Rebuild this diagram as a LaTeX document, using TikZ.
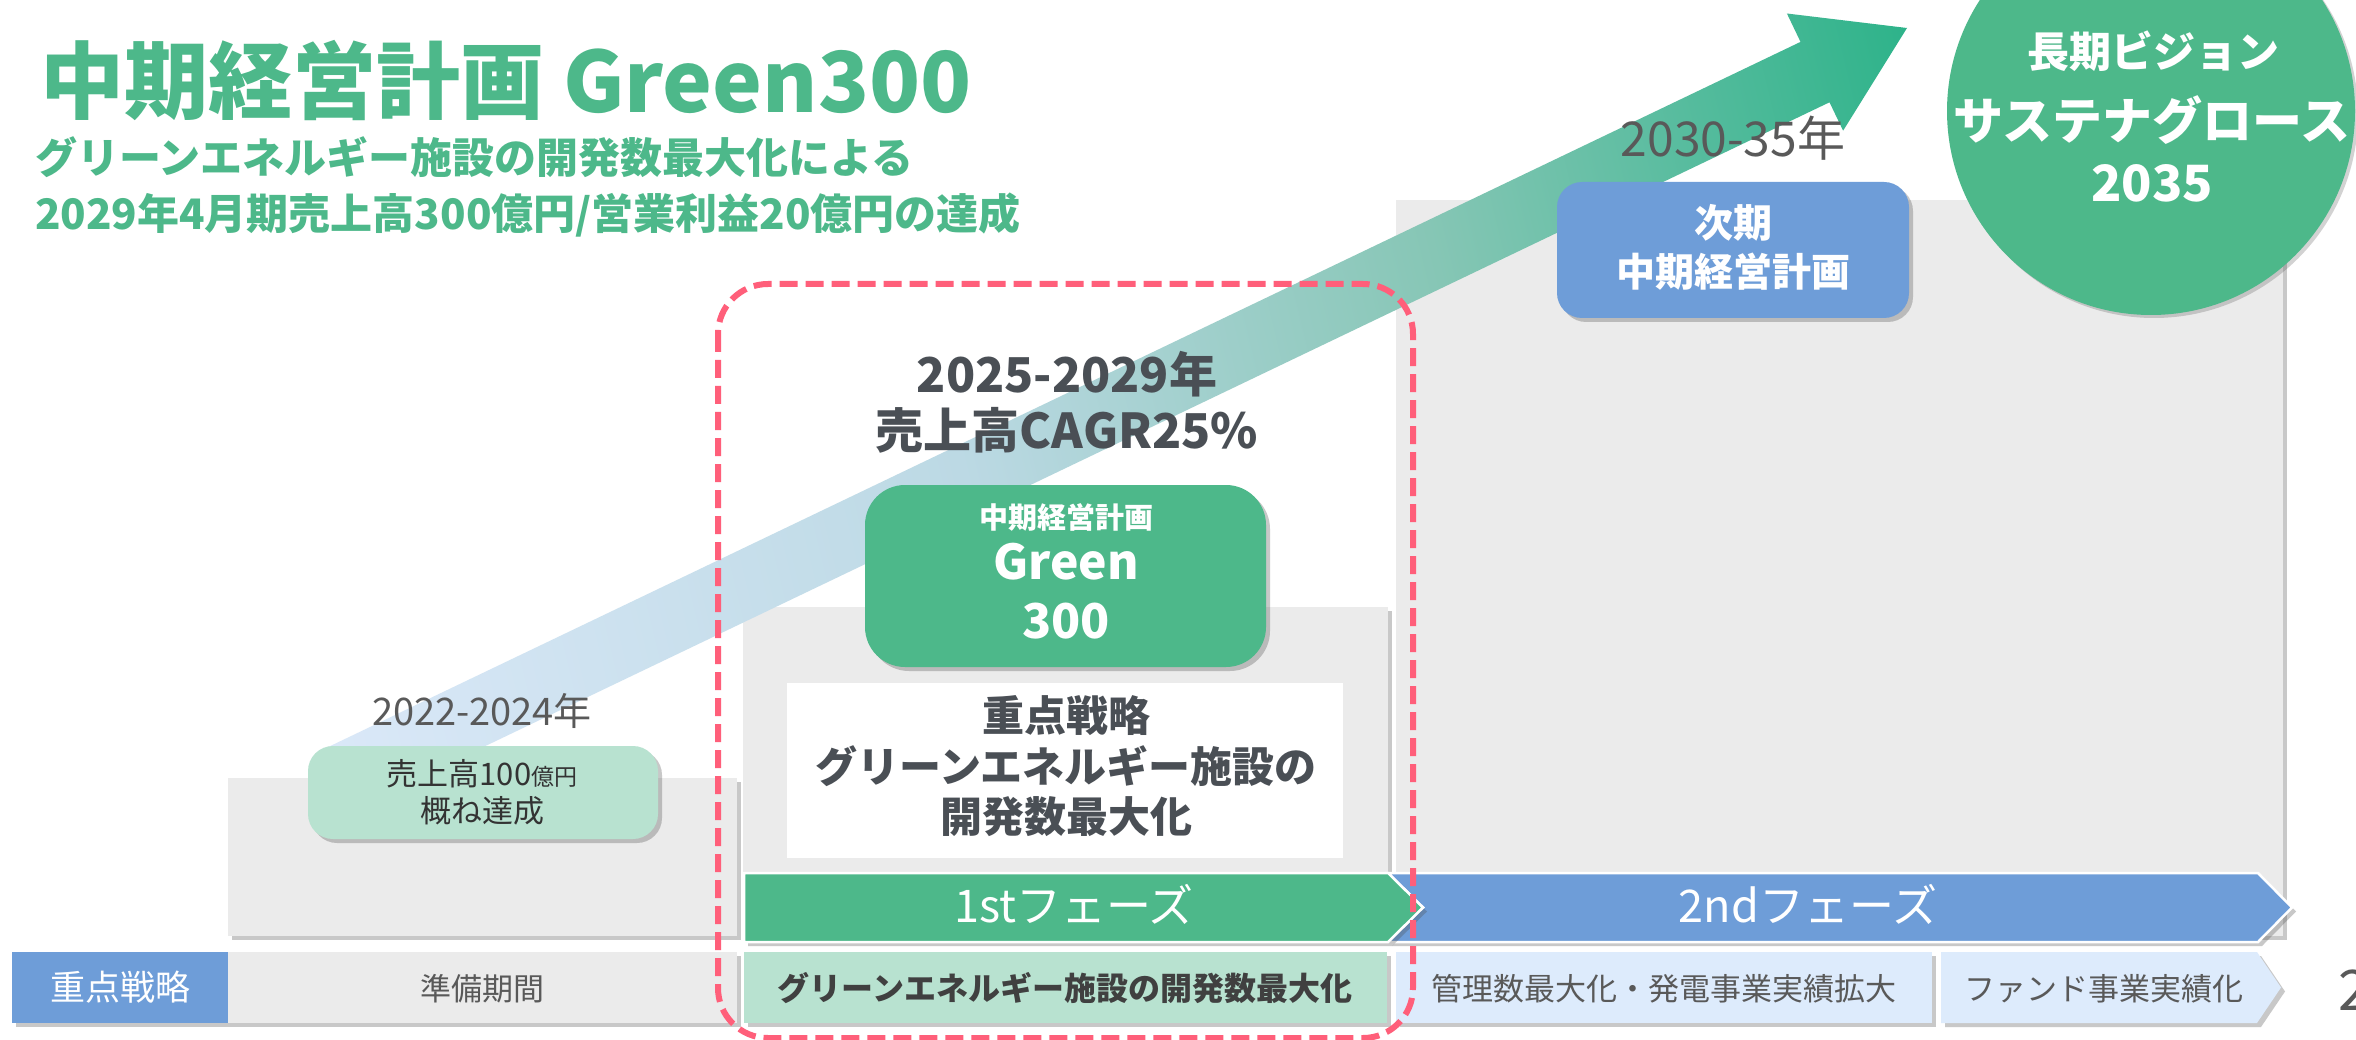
\documentclass[tikz,border=0pt]{standalone}
\usepackage{fontspec}
\setmainfont{Noto Sans CJK JP}
\usetikzlibrary{shadows}
\newcommand\myfs[1]{\fontsize{#1}{#1}\selectfont}
\definecolor{grn}{HTML}{4DB88A}
\definecolor{mint}{HTML}{B8E2D0}
\definecolor{blu}{HTML}{6E9DD8}
\definecolor{lblu}{HTML}{DDEBFC}
\definecolor{graybg}{HTML}{EBEBEB}
\definecolor{dtxt}{HTML}{4A4F55}
\definecolor{gtxt}{HTML}{595959}
\definecolor{dashred}{HTML}{FF5F7A}
\definecolor{arrA}{HTML}{DAE8F8}
\definecolor{arrB}{HTML}{BCD9E4}
\definecolor{arrC}{HTML}{86C6B5}
\definecolor{arrD}{HTML}{2EB38A}
\pgfdeclarehorizontalshading{arrowshade}{100bp}{color(0bp)=(arrA); color(20.7bp)=(arrA); color(44.4bp)=(arrB); color(62.2bp)=(arrC); color(80bp)=(arrD); color(100bp)=(arrD)}
\tikzset{
  txt/.style={inner sep=0pt, outer sep=0pt},
  shd/.style={drop shadow={shadow xshift=4pt, shadow yshift=-4pt, opacity=0.3, fill=black!70}},
  box/.style={rectangle, inner sep=0pt, outer sep=0pt},
}
\begin{document}
\begin{tikzpicture}[x=1pt,y=-1pt]
\useasboundingbox[fill=white] (0,0) rectangle (2356,1040);

% gray background panels
\node[box, fill=graybg, shd, minimum width=509, minimum height=158] (p1) at (482.5,857) {};
\node[box, fill=graybg, shd, minimum width=645, minimum height=329] (p2) at (1065.5,771.5) {};
\node[box, fill=graybg, shd, minimum width=887, minimum height=736] (p3) at (1839.5,568) {};

% big gradient arrow
\coordinate (A1) at (320.5,750.7);
\coordinate (S1) at (1800.5,41.9);
\coordinate (H1) at (1786.9,13.5);
\coordinate (T) at (1907,28);
\coordinate (H2) at (1843.1,130.7);
\coordinate (S2) at (1829.5,102.3);
\coordinate (A2) at (349.5,811.1);
\shade[shading=arrowshade, shading angle=13.54] (A1) -- (S1) -- (H1) -- (T) -- (H2) -- (S2) -- (A2) -- cycle;

% title
\node[txt, anchor=base west, text=grn, font=\myfs{84}\bfseries] (title) at (40,113) {中期経営計画 Green300};
\node[txt, anchor=base west, text=grn, font=\myfs{42}\bfseries] (sub1) at (35,174) {グリーンエネルギー施設の開発数最大化による};
\node[txt, anchor=base west, text=grn, font=\myfs{42}\bfseries] (sub2) at (35,230) {2029年4月期売上高300億円/営業利益20億円の達成};

% 2022-2024
\node[txt, anchor=base, text=gtxt, font=\myfs{38}] (y1) at (482,725) {2022-2024年};
\node[box, fill=mint, rounded corners=25, shd, minimum width=350, minimum height=93] (b100) at (483,792.5) {};
\node[txt, anchor=base, text=black!80, font=\myfs{31}] (b100a) at (482,785) {売上高100{\myfs{23}億円}};
\node[txt, anchor=base, text=black!80, font=\myfs{31}] (b100b) at (482,822) {概ね達成};

% 2025-2029
\node[txt, anchor=base, text=dtxt, font=\myfs{48}\bfseries] (c1) at (1067,393) {2025-2029年};
\node[txt, anchor=base, text=dtxt, font=\myfs{48}\bfseries] (c2) at (1067,448) {売上高CAGR25\%};
\node[box, fill=grn, rounded corners=40, shd, minimum width=401, minimum height=182] (g300) at (1065.5,576) {};
\node[txt, anchor=base, text=white, font=\myfs{29}\bfseries] (g300a) at (1066,528) {中期経営計画};
\node[txt, anchor=base, text=white, font=\myfs{48}\bfseries] (g300b) at (1066,579) {Green};
\node[txt, anchor=base, text=white, font=\myfs{48}\bfseries] (g300c) at (1066,638) {300};
\node[box, fill=white, minimum width=556, minimum height=175] (wbox) at (1065,770.5) {};
\node[txt, anchor=base, text=dtxt, font=\myfs{42}\bfseries] (w1) at (1066,731) {重点戦略};
\node[txt, anchor=base, text=dtxt, font=\myfs{42}\bfseries] (w2) at (1066,782) {グリーンエネルギー施設の};
\node[txt, anchor=base, text=dtxt, font=\myfs{42}\bfseries] (w3) at (1066,832) {開発数最大化};

% 2030-35
\node[txt, anchor=base, text=gtxt, font=\myfs{48}] (y3) at (1733,157) {2030-35年};
\node[box, fill=blu, rounded corners=25, shd, minimum width=352, minimum height=136] (next) at (1733,250) {};
\node[txt, anchor=base, text=white, font=\myfs{39}\bfseries] (next1) at (1733,238) {次期};
\node[txt, anchor=base, text=white, font=\myfs{39}\bfseries] (next2) at (1733,287) {中期経営計画};

% vision circle
\node[circle, fill=grn, inner sep=0pt, minimum size=408, drop shadow={shadow xshift=3pt, shadow yshift=-3pt, opacity=0.25, fill=black!70}] (vision) at (2151,111) {};
\node[txt, anchor=base, text=white, font=\myfs{42}\bfseries] (v1) at (2153,68) {長期ビジョン};
\node[txt, anchor=base, text=white, font=\myfs{50}\bfseries] (v2) at (2152,140) {サステナグロース};
\node[txt, anchor=base, text=white, font=\myfs{50}\bfseries] (v3) at (2152,202) {2035};

% phase arrows
\draw[fill=blu, draw=white, line width=2.5pt, line join=miter, drop shadow={shadow xshift=4pt, shadow yshift=-4pt, opacity=0.3, fill=black!70}]
  (1388,873) -- (2258,873) -- (2292,907.5) -- (2258,942) -- (1388,942) -- (1423,907.5) -- cycle;
\draw[fill=grn, draw=white, line width=2.5pt, line join=miter, drop shadow={shadow xshift=4pt, shadow yshift=-4pt, opacity=0.3, fill=black!70}]
  (744,873) -- (1388,873) -- (1423,907.5) -- (1388,942) -- (744,942) -- cycle;
\node[txt, anchor=base, text=white, font=\myfs{45}] (ph1) at (1074,922) {1stフェーズ};
\node[txt, anchor=base, text=white, font=\myfs{45}] (ph2) at (1808,922) {2ndフェーズ};

% bottom row
\node[box, fill=blu, shd, minimum width=216, minimum height=71] (r0) at (120,987.5) {};
\node[txt, anchor=base, text=white, font=\myfs{35}] (r0t) at (120,1000) {重点戦略};
\node[box, fill=graybg, shd, minimum width=509, minimum height=71] (r1) at (482.5,987.5) {};
\node[txt, anchor=base, text=gtxt, font=\myfs{31}] (r1t) at (482,1000) {準備期間};
\node[box, fill=mint, shd, minimum width=643, minimum height=71] (r2) at (1065.5,987.5) {};
\node[txt, anchor=base, text=black!75, font=\myfs{32}\bfseries] (r2t) at (1065,1000) {グリーンエネルギー施設の開発数最大化};
\node[box, fill=lblu, shd, minimum width=536, minimum height=71] (r3) at (1664,987.5) {};
\node[txt, anchor=base, text=gtxt, font=\myfs{31}] (r3t) at (1664,1000) {管理数最大化・発電事業実績拡大};
\fill[lblu, shd] (1941,952) -- (2257,952) -- (2281,987.5) -- (2257,1023) -- (1941,1023) -- cycle;
\node[txt, anchor=base, text=gtxt, font=\myfs{31}] (r4t) at (2104,1000) {ファンド事業実績化};
\node[txt, anchor=base west, text=gtxt, font=\myfs{56}] (pg) at (2338,1010) {2};

% dashed focus frame
\draw[dashred, line width=6pt, dash pattern=on 18pt off 8pt, rounded corners=50] (718,284) rectangle (1413,1038);
\end{tikzpicture}
\end{document}
